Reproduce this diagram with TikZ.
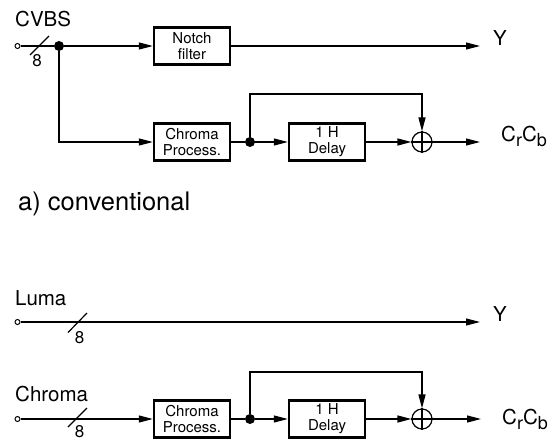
\documentclass[tikz,border=0pt]{standalone}
\usepackage{fontspec}
\setmainfont{TeX Gyre Heros}
\usetikzlibrary{arrows.meta}
\newcommand\crcb{C\raisebox{-5pt}{\fontsize{18}{18}\selectfont r}C\raisebox{-5pt}{\fontsize{18}{18}\selectfont b}}
\begin{document}
\begin{tikzpicture}[x=1pt,y=-1pt,
  sig/.style={line width=1.2pt},
  arr/.style={sig,-{Triangle[length=14pt,width=7pt]}},
  blk/.style={draw,line width=2.4pt,minimum width=76pt,minimum height=37pt,
    inner sep=0pt,align=center,font=\fontsize{15}{16}\selectfont},
  dot/.style={circle,fill,inner sep=0pt,minimum size=10pt},
  port/.style={circle,draw,fill=white,line width=1pt,inner sep=0pt,minimum size=5pt},
  sum/.style={circle,draw,line width=1.2pt,inner sep=0pt,minimum size=20pt},
  lbl/.style={inner sep=0pt,font=\fontsize{20.5}{24}\selectfont},
  bus/.style={inner sep=0pt,font=\fontsize{17}{20}\selectfont},
  title/.style={inner sep=0pt,font=\fontsize{25.5}{30}\selectfont}]
\useasboundingbox (0,0) rectangle (557,441);

% ---- a) conventional ----
\node[lbl,anchor=base west] (cvbs) at (15,27) {CVBS};
\node[port] (in1) at (17.5,46) {};
\node[dot] (j1) at (59,46) {};
\node[blk] (notch) at (192,46) {Notch\\filter};
\node[blk] (cp1) at (192,142) {Chroma\\Process.};
\node[dot] (j2) at (250,142) {};
\node[blk] (dl1) at (327,142) {1 H\\Delay};
\node[sum] (s1) at (422,142) {};
\coordinate (y1) at (480,46);
\coordinate (c1) at (480,142);
\coordinate (fb1) at (422,94);
\node[lbl,anchor=base west] (ylab1) at (493,46) {Y};
\node[lbl,anchor=base west] (crcb1) at (501,142) {\crcb};

\draw[sig] (in1) -- (j1);
\draw[sig] (30,55) -- (49,36);
\node[bus] (w1) at (37,61) {8};
\draw[arr] (j1) -- (notch);
\draw[arr] (notch) -- (y1);
\draw[arr] (j1) |- (cp1);
\draw[sig] (cp1) -- (j2);
\draw[arr] (j2) -- (dl1);
\draw[arr] (dl1) -- (s1);
\draw[arr] (j2) |- (fb1) -- (s1.north);
\draw[arr] (s1) -- (c1);
\draw[sig] (s1.north) -- (s1.south) (s1.west) -- (s1.east);

\node[title,anchor=base west] (capa) at (18,211) {a) conventional};

% ---- separate luma / chroma ----
\node[lbl,anchor=base west] (luma) at (15,305) {Luma};
\node[port] (in2) at (17.5,322) {};
\coordinate (y2) at (480,322);
\node[lbl,anchor=base west] (ylab2) at (493,321) {Y};
\draw[arr] (in2) -- (y2);
\draw[sig] (68,332.5) -- (87,313);
\node[bus] (w2) at (79.5,337.5) {8};

\node[lbl,anchor=base west] (chroma) at (15,401) {Chroma};
\node[port] (in3) at (17.5,419) {};
\node[blk] (cp2) at (192,419) {Chroma\\Process.};
\node[dot] (j3) at (250,419) {};
\node[blk] (dl2) at (327,419) {1 H\\Delay};
\node[sum] (s2) at (422,419) {};
\coordinate (c2) at (481,419);
\coordinate (fb2) at (422,372);
\node[lbl,anchor=base west] (crcb2) at (502,424.5) {\crcb};

\draw[arr] (in3) -- (cp2);
\draw[sig] (68,427) -- (87,408);
\node[bus] (w3) at (79.5,432) {8};
\draw[sig] (cp2) -- (j3);
\draw[arr] (j3) -- (dl2);
\draw[arr] (dl2) -- (s2);
\draw[arr] (j3) |- (fb2) -- (s2.north);
\draw[arr] (s2) -- (c2);
\draw[sig] (s2.north) -- (s2.south) (s2.west) -- (s2.east);
\end{tikzpicture}
\end{document}
